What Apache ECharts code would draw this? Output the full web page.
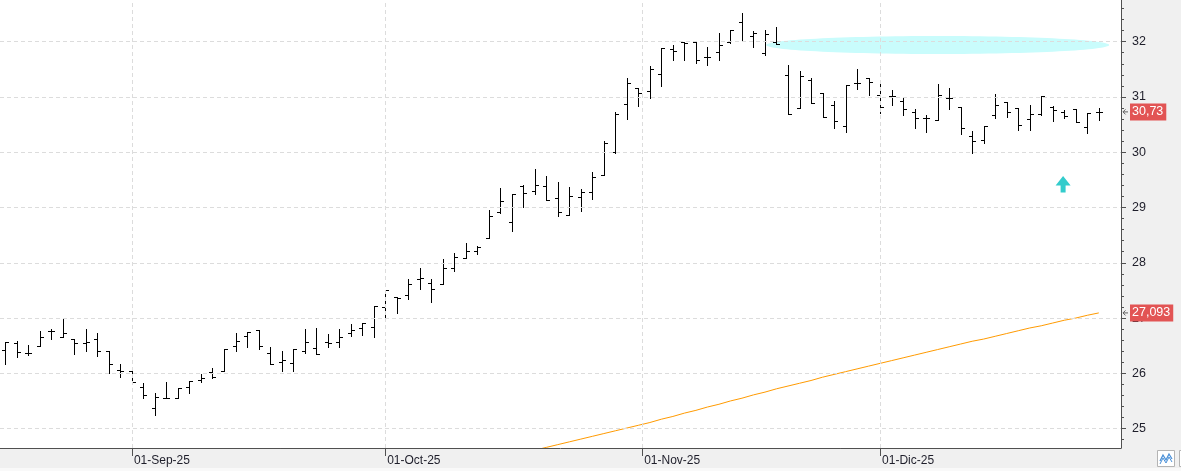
<!DOCTYPE html>
<html><head><meta charset="utf-8">
<script src="https://cdn.jsdelivr.net/npm/echarts@6/dist/echarts.min.js"></script>
<style>html,body{margin:0;padding:0;background:#fff}#c{width:1181px;height:471px}</style>
</head><body><div id="c"></div>
<script>
// ---- data (bar index 0..95, daily OHLC) ----
const openP  = [26.43,26.54,26.36,26.49,26.76,26.66,26.62,26.54,26.62,26.41,26.06,26.05,25.75,25.38,25.55,25.55,25.75,25.88,26.02,26.05,
                26.50,26.67,26.79,26.36,26.20,26.19,26.41,26.46,26.56,26.56,26.73,26.82,26.84,27.20,27.38,27.41,27.70,27.64,27.62,27.91,
                28.08,28.21,28.44,28.92,28.73,29.39,29.30,29.39,29.17,28.86,29.19,29.28,29.58,30.00,30.87,31.16,31.11,31.41,31.86,31.99,
                32.00,31.72,31.82,32.00,32.35,32.10,31.79,31.99,31.39,30.80,31.30,31.08,30.85,30.48,31.25,31.35,31.04,31.02,30.93,30.72,
                30.62,30.58,30.99,30.82,30.30,30.22,30.68,30.90,30.80,30.61,30.69,30.82,30.73,30.78,30.45,30.73];
const highP  = [26.57,26.59,26.51,26.76,26.80,27.00,26.62,26.80,26.73,26.41,26.17,26.05,25.82,25.65,25.85,25.73,25.87,25.99,26.10,26.44,
                26.73,26.75,26.79,26.48,26.40,26.44,26.80,26.82,26.71,26.80,26.90,26.91,27.22,27.50,27.38,27.70,27.90,27.70,28.06,28.17,
                28.35,28.30,28.95,29.36,29.24,29.40,29.69,29.57,29.47,29.37,29.33,29.64,30.21,30.73,31.34,31.17,31.56,31.88,31.94,31.99,
                32.00,31.90,32.15,32.22,32.51,32.20,32.22,32.26,31.57,31.47,31.35,31.08,30.92,31.22,31.50,31.35,31.30,31.12,30.99,30.78,
                30.68,31.24,31.16,30.82,30.39,30.47,31.05,30.90,30.80,30.86,31.01,30.83,30.77,30.78,30.71,30.80];
const lowP   = [26.16,26.29,26.34,26.49,26.62,26.66,26.35,26.41,26.31,26.00,25.93,25.85,25.55,25.24,25.55,25.55,25.64,25.84,25.91,26.05,
                26.41,26.47,26.44,26.16,26.05,26.05,26.37,26.35,26.47,26.47,26.68,26.70,26.66,27.02,27.09,27.34,27.53,27.29,27.62,27.85,
                28.08,28.15,28.44,28.90,28.58,29.01,29.24,29.13,28.84,28.86,28.93,29.16,29.58,29.98,30.61,30.83,30.99,31.19,31.66,31.66,
                31.61,31.57,31.66,31.97,32.02,31.90,31.75,31.95,30.70,30.80,30.89,30.64,30.44,30.36,31.15,31.04,30.71,30.86,30.67,30.44,
                30.36,30.58,30.78,30.33,29.98,30.16,30.62,30.64,30.41,30.41,30.68,30.56,30.62,30.55,30.35,30.58];
const closeP = [26.57,26.38,26.36,26.66,26.76,26.73,26.54,26.56,26.40,26.17,26.05,25.85,25.60,25.58,25.55,25.73,25.86,25.91,25.93,26.44,
                26.59,26.75,26.50,26.16,26.25,26.44,26.56,26.35,26.54,26.66,26.78,26.91,27.22,27.50,27.37,27.62,27.72,27.52,27.91,28.10,
                28.21,28.29,28.84,29.11,29.24,29.27,29.40,29.13,28.92,29.20,29.28,29.56,30.16,30.70,31.25,31.08,31.50,31.88,31.84,31.97,
                31.67,31.72,31.94,32.21,32.02,32.15,32.13,31.95,30.70,31.38,30.89,30.64,30.56,31.21,31.25,31.27,30.82,31.02,30.78,30.62,
                30.62,31.04,30.99,30.44,30.21,30.47,30.86,30.72,30.50,30.69,31.01,30.77,30.66,30.55,30.71,30.73];
// moving average (orange), starting at bar index 45
const maStart = 45;
const maValues = [24.56,24.61,24.66,24.71,24.76,24.81,24.86,24.91,24.96,25.01,25.06,25.11,25.17,25.22,25.28,25.33,25.39,25.44,25.50,25.55,
                  25.61,25.66,25.72,25.77,25.82,25.87,25.93,25.98,26.03,26.08,26.13,26.18,26.23,26.28,26.33,26.38,26.43,26.48,26.53,26.58,
                  26.62,26.67,26.72,26.77,26.82,26.86,26.91,26.96,27.00,27.05,27.093];
// axis ticks / labels
const monthTickPos = [11, 33, 55.33, 76];
const monthTickLabels = ['01-Sep-25', '01-Oct-25', '01-Nov-25', '01-Dic-25'];
const yMajorTicks = [25, 26, 27, 28, 29, 30, 31, 32];
const yMinorTicks = [24.8, 25.2, 25.4, 25.6, 25.8, 26.2, 26.4, 26.6, 26.8, 27.2, 27.4, 27.6, 27.8, 28.2, 28.4, 28.6, 28.8,
                     29.2, 29.4, 29.6, 29.8, 30.2, 30.4, 30.6, 30.8, 31.2, 31.4, 31.6, 31.8, 32.2, 32.4, 32.6];
const lastPrice = 30.73, lastPriceText = '30,73';
const maLast = 27.093, maLastText = '27,093';
// annotations (data coords)
const ellipseCenter = [81.0, 31.94], ellipseRadius = [14.9, 0.163];
const arrowTip = [91.9, 29.57];

const Y_MIN = 24.649, Y_MAX = 32.754, X_MIN = -0.46, X_MAX = 96.93;
const FONT = '"Liberation Sans", Arial, sans-serif';
const GRID_W = 1121;

const ohlc = openP.map((o, i) => [i, o, highP[i], lowP[i], closeP[i]]);
const maData = maValues.map((v, i) => [maStart + i, v]);

const chart = echarts.init(document.getElementById('c'));
const dash = {type: [4, 3], color: '#dcdcdc', width: 1};
const option = {
  animation: false,
  backgroundColor: '#ffffff',
  grid: {left: 0, right: 1181 - GRID_W, top: 0, bottom: 23},
  xAxis: {
    type: 'value', min: X_MIN, max: X_MAX, z: 5,
    axisLine: {show: true, onZero: false, lineStyle: {color: '#505050', width: 1}},
    splitLine: {show: false},
    axisTick: {show: true, customValues: monthTickPos, length: 8, lineStyle: {color: '#505050'}},
    axisLabel: {
      customValues: monthTickPos, align: 'left', margin: 7, padding: [0, 0, 0, 2],
      color: '#1e1e2a', fontSize: 12, fontFamily: FONT,
      formatter: v => { const k = monthTickPos.findIndex(p => Math.abs(p - v) < 0.01); return k >= 0 ? monthTickLabels[k] : ''; }
    }
  },
  yAxis: [{
    type: 'value', position: 'right', min: Y_MIN, max: Y_MAX, z: 5,
    axisLine: {show: true, onZero: false, lineStyle: {color: '#505050', width: 1}},
    splitLine: {show: false},
    axisTick: {show: true, customValues: yMajorTicks, length: 5, lineStyle: {color: '#505050'}},
    axisLabel: {customValues: yMajorTicks, margin: 11, color: '#1e1e2a', fontSize: 12.5, fontFamily: FONT}
  }, {
    // minor ticks: a left axis moved onto the right edge, ticks pointing outward (right)
    type: 'value', position: 'left', offset: -GRID_W, min: Y_MIN, max: Y_MAX, z: 5,
    axisLine: {show: false, onZero: false},
    splitLine: {show: false},
    axisTick: {show: true, inside: true, customValues: yMinorTicks, length: 3, lineStyle: {color: '#505050'}},
    axisLabel: {show: false}
  }],
  series: [{
    type: 'line', data: [], z: 1, silent: true,
    markLine: {
      silent: true, symbol: ['none', 'none'], animation: false, label: {show: false},
      lineStyle: dash, emphasis: {disabled: true},
      data: yMajorTicks.map(v => ({yAxis: v})).concat(monthTickPos.map(v => ({xAxis: v})))
    }
  }, {
    type: 'line', data: maData, z: 3, symbol: 'none', silent: true,
    lineStyle: {color: '#ff9a00', width: 1}
  }, {
    type: 'custom', data: ohlc, z: 4, silent: true,
    encode: {x: 0, y: [1, 2, 3, 4]},
    renderItem: function (params, api) {
      const x = api.value(0);
      const pO = api.coord([x, api.value(1)]);
      const pH = api.coord([x, api.value(2)]);
      const pL = api.coord([x, api.value(3)]);
      const pC = api.coord([x, api.value(4)]);
      const cx = Math.round(pH[0]) + 0.5;
      const yo = Math.round(pO[1]) + 0.5, yc = Math.round(pC[1]) + 0.5;
      const style = {stroke: '#000', lineWidth: 1};
      return {type: 'group', children: [
        {type: 'line', shape: {x1: cx, y1: Math.round(pH[1]), x2: cx, y2: Math.round(pL[1]) + 1}, style: style},
        {type: 'line', shape: {x1: cx - 3.5, y1: yo, x2: cx, y2: yo}, style: style},
        {type: 'line', shape: {x1: cx, y1: yc, x2: cx + 3.5, y2: yc}, style: style}
      ]};
    }
  }]
};
chart.setOption(option);

// annotation graphics positioned from data coordinates
const c0 = chart.convertToPixel({gridIndex: 0}, ellipseCenter);
const c1 = chart.convertToPixel({gridIndex: 0}, [ellipseCenter[0] + ellipseRadius[0], ellipseCenter[1] + ellipseRadius[1]]);
const at = chart.convertToPixel({gridIndex: 0}, arrowTip);
const yLast = chart.convertToPixel({yAxisIndex: 0}, lastPrice);
const yMa = chart.convertToPixel({yAxisIndex: 0}, maLast);
const axX = GRID_W;

function priceTag(y, txt) {
  return [
    {type: 'polyline', z: 10, shape: {points: [[axX + 7, y], [axX + 2, y]]}, style: {stroke: '#606060', lineWidth: 1, fill: null}},
    {type: 'polyline', z: 10, shape: {points: [[axX + 4.5, y - 2.5], [axX + 2, y], [axX + 4.5, y + 2.5]]}, style: {stroke: '#606060', lineWidth: 1, fill: null}},
    {type: 'text', z: 10, x: axX + 9, y: y, style: {text: txt, fill: '#ffffff', backgroundColor: '#e25454',
      padding: [2, 3, 2, 2], font: '12.5px ' + FONT, verticalAlign: 'middle', align: 'left'}}
  ];
}

chart.setOption({graphic: [
  {type: 'rect', z: 0, silent: true, shape: {x: axX, y: 0, width: 60, height: 471}, style: {fill: '#f0f0f0'}},
  {type: 'rect', z: 0, silent: true, shape: {x: 0, y: 449, width: 1181, height: 19}, style: {fill: '#f0f0f0'}},
  {type: 'rect', z: 0, silent: true, shape: {x: 0, y: 468, width: 1181, height: 3}, style: {fill: '#f9f9f9'}},
  {type: 'ellipse', z: 2, silent: true, shape: {cx: c0[0], cy: c0[1], rx: c1[0] - c0[0], ry: c0[1] - c1[1]}, style: {fill: '#c9fcfc'}},
  {type: 'polygon', z: 2, silent: true, shape: {points: [
    [at[0], at[1]], [at[0] + 7.5, at[1] + 9.5], [at[0] + 2.5, at[1] + 9.5], [at[0] + 2.5, at[1] + 16.5],
    [at[0] - 2.5, at[1] + 16.5], [at[0] - 2.5, at[1] + 9.5], [at[0] - 7.5, at[1] + 9.5]]}, style: {fill: '#33cccc'}},
  {type: 'rect', z: 10, silent: true, shape: {x: 1157.5, y: 450.5, width: 17, height: 16}, style: {fill: '#ffffff', stroke: '#b4b4b4', lineWidth: 1}},
  {type: 'polyline', z: 10, silent: true, shape: {points: [[1160, 461], [1163, 455], [1166, 460], [1169, 454], [1172, 459]]}, style: {stroke: '#4a90d8', lineWidth: 1.3, fill: null}},
  {type: 'polyline', z: 10, silent: true, shape: {points: [[1160, 464], [1163, 458], [1166, 463], [1169, 457], [1172, 462]]}, style: {stroke: '#4a90d8', lineWidth: 1, fill: null}},
  {type: 'rect', z: 10, silent: true, shape: {x: 1179.5, y: 450.5, width: 10, height: 16}, style: {fill: '#ffffff', stroke: '#b4b4b4', lineWidth: 1}}
].concat(priceTag(yLast, lastPriceText)).concat(priceTag(yMa, maLastText))});
</script>
</body></html>
